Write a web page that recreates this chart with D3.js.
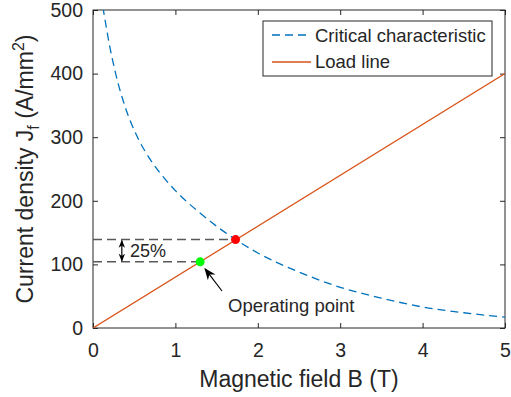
<!DOCTYPE html>
<html lang="en">
<head>
<meta charset="utf-8">
<script src="https://cdn.jsdelivr.net/npm/d3@7"></script>
<style>
  body { margin: 0; background: #fff; }
  text { font-family: "Liberation Sans", Arial, sans-serif; fill: #262626; }
</style>
</head>
<body>
<script>
// Critical characteristic
const critB = [0.12, 0.2, 0.275, 0.4, 0.54, 0.7, 0.85, 1, 1.11, 1.25, 1.5, 1.73, 2, 2.5, 3, 3.5, 4, 4.5, 5];
const critJ = [505, 445, 400, 344, 300, 264, 238, 216, 202, 186, 160, 139, 118, 88, 64, 47, 33, 24, 17];
// Load line
const loadB = [0, 5];
const loadJ = [0, 400];
// Points
const critPoint = [1.73, 139];
const opPoint = [1.3, 104];
const xTicks = [0, 1, 2, 3, 4, 5];
const yTicks = [0, 100, 200, 300, 400, 500];

const w = 511, h = 397;
const margin = {left: 93, right: 6, top: 10, bottom: 69};

const svg = d3.select('body').append('svg')
    .attr('width', w)
    .attr('height', h);

const x = d3.scaleLinear().domain([0, 5]).range([margin.left, w - margin.right]);
const y = d3.scaleLinear().domain([0, 500]).range([h - margin.bottom, margin.top]);

svg.append('defs').append('clipPath').attr('id', 'clip')
  .append('rect')
    .attr('x', x(0)).attr('y', y(500))
    .attr('width', x(5) - x(0)).attr('height', y(0) - y(500));

// axes
const tickColor = '#262626';
function styleAxis(g) {
  g.select('.domain').remove();
  g.selectAll('line').attr('stroke', tickColor);
  g.selectAll('text').style('font-size', '19.5px').attr('fill', tickColor);
}
svg.append('g')
    .attr('transform', `translate(0,${y(0)})`)
    .call(d3.axisBottom(x).tickValues(xTicks).tickFormat(d3.format('d')).tickSizeInner(-5).tickSizeOuter(0).tickPadding(15))
    .call(styleAxis);
svg.append('g')
    .attr('transform', `translate(0,${y(500)})`)
    .call(d3.axisTop(x).tickValues(xTicks).tickSizeInner(-5).tickSizeOuter(0).tickFormat(''))
    .call(styleAxis);
svg.append('g')
    .attr('transform', `translate(${x(0)},0)`)
    .call(d3.axisLeft(y).tickValues(yTicks).tickFormat(d3.format('d')).tickSizeInner(-5).tickSizeOuter(0).tickPadding(10))
    .call(styleAxis);
svg.append('g')
    .attr('transform', `translate(${x(5)},0)`)
    .call(d3.axisRight(y).tickValues(yTicks).tickSizeInner(-5).tickSizeOuter(0).tickFormat(''))
    .call(styleAxis);

svg.append('rect')
    .attr('x', x(0)).attr('y', y(500))
    .attr('width', x(5) - x(0)).attr('height', y(0) - y(500))
    .attr('fill', 'none').attr('stroke', tickColor).attr('stroke-width', 1);

const plot = svg.append('g').attr('clip-path', 'url(#clip)');

const line = d3.line().x(d => x(d[0])).y(d => y(d[1])).curve(d3.curveMonotoneX);

// guide lines
const guides = [critPoint, opPoint];
plot.selectAll('.guide')
  .data(guides)
  .enter()
  .append('line')
    .attr('x1', x(0)).attr('x2', d => x(d[0]))
    .attr('y1', d => y(d[1])).attr('y2', d => y(d[1]))
    .attr('stroke', '#595959').attr('stroke-width', 1.5)
    .attr('stroke-dasharray', '9,5');

plot.append('path')
    .datum(critB.map((b, i) => [b, critJ[i]]))
    .attr('d', line)
    .attr('fill', 'none')
    .attr('stroke', '#0072BD').attr('stroke-width', 1.3)
    .attr('stroke-dasharray', '8,5');

plot.append('path')
    .datum(loadB.map((b, i) => [b, loadJ[i]]))
    .attr('d', line)
    .attr('fill', 'none')
    .attr('stroke', '#D95319').attr('stroke-width', 1.3);

plot.append('circle').attr('cx', x(critPoint[0])).attr('cy', y(critPoint[1])).attr('r', 4.5).attr('fill', '#ff0000');
plot.append('circle').attr('cx', x(opPoint[0])).attr('cy', y(opPoint[1])).attr('r', 4.5).attr('fill', '#00ff00');

// arrow markers
const defs = svg.select('defs');
defs.append('marker').attr('id', 'head')
    .attr('viewBox', '0 0 10 10').attr('refX', 9).attr('refY', 5)
    .attr('markerWidth', 8).attr('markerHeight', 8).attr('orient', 'auto-start-reverse')
    .attr('markerUnits', 'userSpaceOnUse')
  .append('path').attr('d', 'M0,1 L10,5 L0,9 L3,5 Z').attr('fill', '#000');
defs.append('marker').attr('id', 'bighead')
    .attr('viewBox', '0 0 10 10').attr('refX', 9).attr('refY', 5)
    .attr('markerWidth', 12).attr('markerHeight', 12).attr('orient', 'auto')
    .attr('markerUnits', 'userSpaceOnUse')
  .append('path').attr('d', 'M0,1 L10,5 L0,9 L3,5 Z').attr('fill', '#000');

// 25% double arrow
const ax = 0.35;
svg.append('line')
    .attr('x1', x(ax)).attr('x2', x(ax))
    .attr('y1', y(opPoint[1]) - 1).attr('y2', y(critPoint[1]) + 1)
    .attr('stroke', '#000').attr('stroke-width', 1.2)
    .attr('marker-start', 'url(#head)').attr('marker-end', 'url(#head)');
svg.append('text')
    .attr('x', 130).attr('y', 257)
    .style('font-size', '18px').attr('fill', '#000')
    .text('25%');

// operating point annotation
svg.append('line')
    .attr('x1', 222).attr('y1', 291)
    .attr('x2', x(opPoint[0]) + 5).attr('y2', y(opPoint[1]) + 7)
    .attr('stroke', '#000').attr('stroke-width', 1.2)
    .attr('marker-end', 'url(#bighead)');
svg.append('text')
    .attr('x', 228).attr('y', 312)
    .style('font-size', '18.5px').attr('fill', '#000')
    .text('Operating point');

// legend
const lg = svg.append('g').attr('transform', 'translate(263,21)');
lg.append('rect').attr('width', 229).attr('height', 55)
    .attr('fill', '#fff').attr('stroke', tickColor).attr('stroke-width', 1);
lg.append('line').attr('x1', 9).attr('x2', 48).attr('y1', 14).attr('y2', 14)
    .attr('stroke', '#0072BD').attr('stroke-width', 1.3).attr('stroke-dasharray', '8,5');
lg.append('line').attr('x1', 9).attr('x2', 48).attr('y1', 41).attr('y2', 41)
    .attr('stroke', '#D95319').attr('stroke-width', 1.3);
lg.append('text').attr('x', 52).attr('y', 21).style('font-size', '18.5px').attr('fill', '#000').text('Critical characteristic');
lg.append('text').attr('x', 52).attr('y', 47).style('font-size', '18.5px').attr('fill', '#000').text('Load line');

// axis labels
svg.append('text')
    .attr('x', (x(0) + x(5)) / 2).attr('y', 387)
    .attr('text-anchor', 'middle').style('font-size', '23px')
    .text('Magnetic field B (T)');

const yl = svg.append('text')
    .attr('transform', `translate(33,${(y(0) + y(500)) / 2}) rotate(-90)`)
    .attr('text-anchor', 'middle').style('font-size', '23px');
yl.append('tspan').text('Current density J');
yl.append('tspan').attr('dy', 6).style('font-size', '16px').text('f');
yl.append('tspan').attr('dy', -6).text(' (A/mm');
yl.append('tspan').attr('dy', -9).style('font-size', '16px').text('2');
yl.append('tspan').attr('dy', 9).text(')');
</script>
</body>
</html>
